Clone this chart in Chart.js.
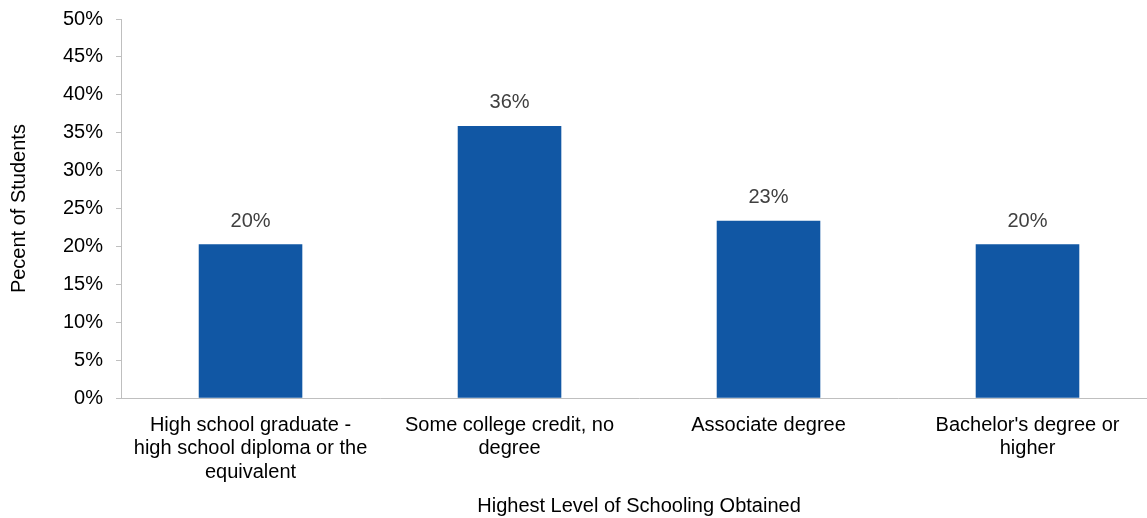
<!DOCTYPE html>
<html>
<head>
<meta charset="utf-8">
<script src="https://cdn.jsdelivr.net/npm/chart.js@4"></script>
<style>
    html, body { margin: 0; padding: 0; background: #fff; overflow: hidden; }
    #wrap { width: 1158px; height: 518px; }
</style>
</head>
<body>
<div id="wrap"><canvas id="chart"></canvas></div>
<script>
// Dados
const categories = [
    ['High school graduate -', 'high school diploma or the', 'equivalent'],
    ['Some college credit, no', 'degree'],
    ['Associate degree'],
    ["Bachelor's degree or", 'higher']
];
const percentValues = [20.3, 35.9, 23.4, 20.3];
const valueLabels = ['20%', '36%', '23%', '20%'];
const yTicks = [0, 5, 10, 15, 20, 25, 30, 35, 40, 45, 50];

const fontFamily = '"Liberation Sans", Arial, sans-serif';

// Rótulos de valor acima das barras
const barLabels = {
    id: 'barLabels',
    afterDatasetsDraw(chart) {
        const ctx = chart.ctx;
        const meta = chart.getDatasetMeta(0);
        ctx.save();
        ctx.font = '20px ' + fontFamily;
        ctx.fillStyle = '#404040';
        ctx.textAlign = 'center';
        ctx.textBaseline = 'middle';
        meta.data.forEach((bar, i) => {
            ctx.fillText(valueLabels[i], bar.x, bar.y - 23);
        });
        ctx.restore();
    }
};

new Chart(document.getElementById('chart'), {
    type: 'bar',
    data: {
        labels: categories,
        datasets: [{
            data: percentValues,
            backgroundColor: '#1157A4',
            borderWidth: 0,
            barPercentage: 0.4,
            categoryPercentage: 1
        }]
    },
    options: {
        responsive: true,
        maintainAspectRatio: false,
        animation: false,
        layout: {
            padding: { top: 19, right: 1, left: 7, bottom: 0 }
        },
        plugins: {
            legend: { display: false },
            tooltip: { enabled: false }
        },
        scales: {
            x: {
                grid: {
                    drawOnChartArea: false,
                    drawTicks: false
                },
                border: { color: '#bfbfbf', width: 1 },
                ticks: {
                    color: '#000',
                    padding: 15,
                    maxRotation: 0,
                    autoSkip: false,
                    font: { family: fontFamily, size: 20, lineHeight: 1.18 }
                },
                title: {
                    display: true,
                    text: 'Highest Level of Schooling Obtained',
                    color: '#000',
                    padding: { top: -5, bottom: 0 },
                    font: { family: fontFamily, size: 20 }
                }
            },
            y: {
                min: 0,
                max: 50,
                afterBuildTicks(axis) {
                    axis.ticks = yTicks.map(v => ({ value: v }));
                },
                grid: {
                    drawOnChartArea: false,
                    drawTicks: true,
                    tickLength: 5,
                    color: '#bfbfbf'
                },
                border: { color: '#bfbfbf', width: 1 },
                ticks: {
                    color: '#000',
                    padding: 13,
                    callback: v => v + '%',
                    font: { family: fontFamily, size: 20, lineHeight: 0.4 }
                },
                title: {
                    display: true,
                    text: 'Pecent of Students',
                    color: '#000',
                    padding: { top: 0, bottom: 19 },
                    font: { family: fontFamily, size: 20 }
                }
            }
        }
    },
    plugins: [barLabels]
});
</script>
</body>
</html>
